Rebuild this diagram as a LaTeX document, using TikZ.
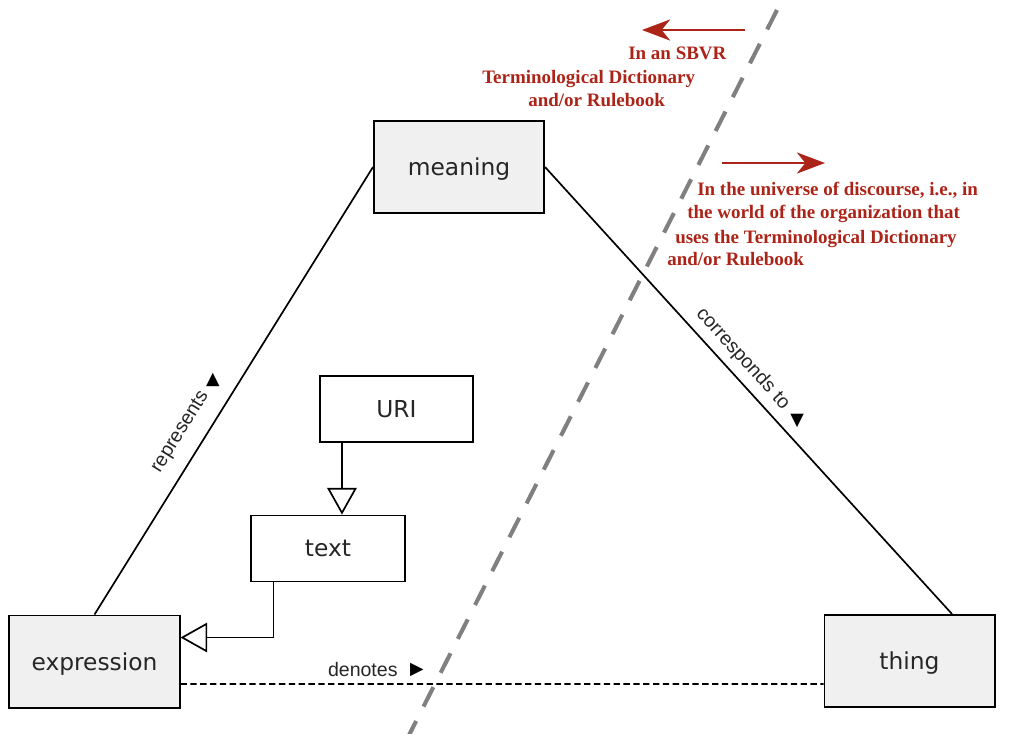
\documentclass[tikz,border=0pt]{standalone}
\usepackage{fontspec}
\usepackage{tikz}
\usetikzlibrary{arrows.meta,calc}
\newfontfamily\boxfont{DejaVu Sans}
\newfontfamily\relfont{Liberation Sans}
\newfontfamily\notefont{Liberation Serif}
\definecolor{notered}{RGB}{172,36,24}
\definecolor{boxgrey}{RGB}{240,240,240}

\begin{document}
\begin{tikzpicture}[x=0.025cm,y=-0.025cm,
  concept/.style={draw=black,line width=1.4pt,fill=boxgrey,text=black!85,
    font=\boxfont\fontsize{16.6}{20}\selectfont,inner sep=0pt,text depth=0pt,
    minimum width=4.25cm,minimum height=2.3cm},
  datatype/.style={concept,fill=white,line width=1.3pt,minimum width=3.83cm,minimum height=1.65cm},
  rel/.style={font=\relfont\fontsize{13.9}{16}\selectfont,inner sep=0pt,text=black!85},
  dir/.style={font=\boxfont\fontsize{12.5}{14}\selectfont,inner sep=0pt},
  gen/.style={line width=1.2pt,-{Triangle[open,length=19pt,width=21pt,line width=1.2pt]}},
  note/.style={text=notered,font=\notefont\bfseries\fontsize{13.5}{17}\selectfont,
    anchor=base west,inner sep=0pt},
  redarrow/.style={draw=notered,line width=1.6pt,-{Stealth[length=20pt,width=15pt,inset=6pt]}},
  boundary/.style={draw=gray,line width=2.9pt,dash pattern=on 15.5pt off 11.5pt}]
\useasboundingbox (0,0) rectangle (1011,733);

% the line between the dictionary and the world
\draw[boundary] (777,10) -- (405,743);

% boxes
\node[concept] (meaning) at (459,167) {meaning};
\node[concept] (expr) at (94.5,661.5) {expression};
\node[concept] (thing) at (909.5,661) {thing};
\node[datatype] (uri) at (396.5,409) {URI};
\node[datatype] (txt) at (328,548.5) {text};

% relations
\draw[line width=1.2pt] (expr.north) -- node[rel,sloped,above=10pt,pos=0.38] {represents} (meaning.west);
\draw[line width=1.2pt] (meaning.east) -- node[rel,sloped,above=5pt,pos=0.455] {corresponds to} ($(thing.north)+(42.5,0)$);
\draw[line width=1.1pt,dash pattern=on 4.5pt off 2.5pt] ($(expr.east)+(0,22.5)$) -- node[rel,above=5pt,pos=0.2835] {denotes} ($(thing.west)+(0,23)$);
\node[dir] (repdir) at (213,380) {▲};
\node[dir] (cordir) at (797,421) {▼};
\node[dir] (dendir) at (417,670) {▶};

% generalizations
\draw[gen] ($(uri.south west)+(23,0)$) coordinate (ufoot) -- (ufoot |- txt.north);
\draw[gen] ($(txt.south west)+(23,0)$) |- ($(expr.north east)+(0,23)$);

% the two sides
\coordinate (dictfrom) at (745,30);
\coordinate (dictto) at (642,30);
\draw[redarrow] (dictfrom) -- (dictto);
\node[note] (dict1) at (628,59) {In an SBVR};
\node[note] (dict2) at (482,83) {Terminological Dictionary};
\node[note] (dict3) at (528,106) {and/or Rulebook};

\coordinate (worldfrom) at (722,163);
\coordinate (worldto) at (825,163);
\draw[redarrow] (worldfrom) -- (worldto);
\node[note] (world1) at (697,195) {In the universe of discourse, i.e., in};
\node[note] (world2) at (687,218) {the world of the organization that};
\node[note] (world3) at (675,243) {uses the Terminological Dictionary};
\node[note] (world4) at (667,265) {and/or Rulebook};
\end{tikzpicture}
\end{document}
